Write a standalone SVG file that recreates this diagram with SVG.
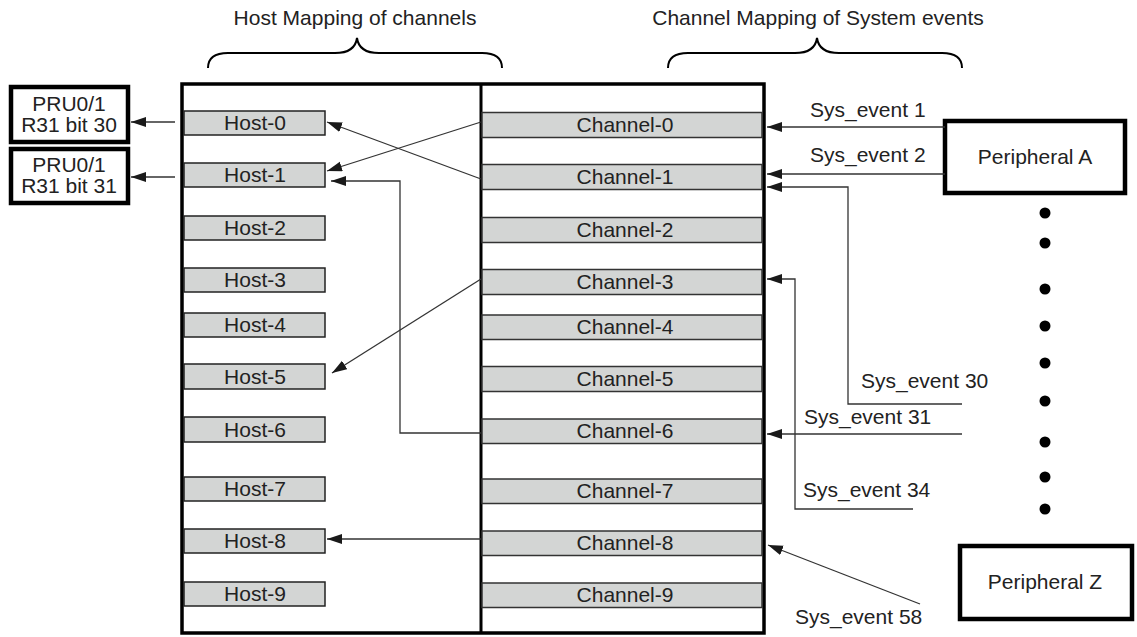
<svg xmlns="http://www.w3.org/2000/svg" width="1137" height="637" viewBox="0 0 1137 637">
<defs>
<marker id="ah" markerUnits="userSpaceOnUse" markerWidth="16" markerHeight="12" refX="15" refY="5" orient="auto"><path d="M0,0 L15,5 L0,10 z" fill="#1a1a1a"/></marker>
<style>
text{font-family:"Liberation Sans",Arial,sans-serif;font-size:21px;fill:#222;}
.t{text-anchor:middle;}
.hb{fill:#d3d5d4;stroke:#222;stroke-width:1.5;}
.cb{fill:#d3d5d4;stroke:#333;stroke-width:1.5;}
.thick{fill:#fff;stroke:#000;stroke-width:4.5;}
.frame{fill:none;stroke:#000;stroke-width:3.5;}
.c{fill:none;stroke:#333;stroke-width:1.3;marker-end:url(#ah);}
.brace{fill:none;stroke:#000;stroke-width:2;}
.dot{fill:#000;}
</style>
</defs>
<rect width="1137" height="637" fill="#fff"/>
<g id="titles">
<text class="t" x="355" y="25">Host Mapping of channels</text>
<path class="brace" d="M208,68 Q208,53 228,53 L335,53 Q355,53 357,38 Q359,53 379,53 L482,53 Q502,53 502,68"/>
<text class="t" x="818" y="25">Channel Mapping of System events</text>
<path class="brace" d="M668,68 Q668,53 688,53 L795,53 Q815,53 817,38 Q819,53 839,53 L942,53 Q962,53 962,68"/>
</g>
<g id="frame">
<rect class="frame" x="182" y="84" width="582" height="549"/>
<line x1="481" y1="84" x2="481" y2="633" stroke="#000" stroke-width="3"/>
</g>
<g id="hosts">
<g id="host-0"><rect class="hb" x="184" y="111" width="141" height="24"/><text class="t" x="255" y="130">Host-0</text></g>
<g id="host-1"><rect class="hb" x="184" y="163" width="141" height="24"/><text class="t" x="255" y="182">Host-1</text></g>
<g id="host-2"><rect class="hb" x="184" y="216" width="141" height="24"/><text class="t" x="255" y="235">Host-2</text></g>
<g id="host-3"><rect class="hb" x="184" y="268" width="141" height="24"/><text class="t" x="255" y="287">Host-3</text></g>
<g id="host-4"><rect class="hb" x="184" y="313" width="141" height="24"/><text class="t" x="255" y="332">Host-4</text></g>
<g id="host-5"><rect class="hb" x="184" y="364" width="141" height="25"/><text class="t" x="255" y="384">Host-5</text></g>
<g id="host-6"><rect class="hb" x="184" y="417" width="141" height="25"/><text class="t" x="255" y="437">Host-6</text></g>
<g id="host-7"><rect class="hb" x="184" y="477" width="141" height="24"/><text class="t" x="255" y="496">Host-7</text></g>
<g id="host-8"><rect class="hb" x="184" y="529" width="141" height="24"/><text class="t" x="255" y="548">Host-8</text></g>
<g id="host-9"><rect class="hb" x="184" y="582" width="141" height="24"/><text class="t" x="255" y="601">Host-9</text></g>
</g>
<g id="channels">
<g id="channel-0"><rect class="cb" x="482" y="112.5" width="280" height="25"/><text class="t" x="625" y="132">Channel-0</text></g>
<g id="channel-1"><rect class="cb" x="482" y="164.5" width="280" height="25"/><text class="t" x="625" y="184">Channel-1</text></g>
<g id="channel-2"><rect class="cb" x="482" y="217.5" width="280" height="25"/><text class="t" x="625" y="237">Channel-2</text></g>
<g id="channel-3"><rect class="cb" x="482" y="269.5" width="280" height="25"/><text class="t" x="625" y="289">Channel-3</text></g>
<g id="channel-4"><rect class="cb" x="482" y="315" width="280" height="24.5"/><text class="t" x="625" y="334">Channel-4</text></g>
<g id="channel-5"><rect class="cb" x="482" y="366.5" width="280" height="25"/><text class="t" x="625" y="386">Channel-5</text></g>
<g id="channel-6"><rect class="cb" x="482" y="419" width="280" height="24.5"/><text class="t" x="625" y="438">Channel-6</text></g>
<g id="channel-7"><rect class="cb" x="482" y="479" width="280" height="24.5"/><text class="t" x="625" y="498">Channel-7</text></g>
<g id="channel-8"><rect class="cb" x="482" y="531" width="280" height="24.5"/><text class="t" x="625" y="550">Channel-8</text></g>
<g id="channel-9"><rect class="cb" x="482" y="583" width="280" height="24.5"/><text class="t" x="625" y="602">Channel-9</text></g>
</g>
<g id="pru-30"><rect class="thick" x="11" y="87" width="117" height="55"/><text class="t" x="69" y="111">PRU0/1</text><text class="t" x="69" y="132">R31 bit 30</text></g>
<g id="pru-31"><rect class="thick" x="11" y="149" width="117" height="54"/><text class="t" x="69" y="172">PRU0/1</text><text class="t" x="69" y="193">R31 bit 31</text></g>
<g id="peripheral-a"><rect class="thick" x="945" y="121" width="180" height="72"/><text class="t" x="1035" y="164">Peripheral A</text></g>
<g id="peripheral-z"><rect class="thick" x="960" y="546" width="172" height="73"/><text class="t" x="1045" y="589">Peripheral Z</text></g>
<g id="dots">
<circle class="dot" cx="1045" cy="213" r="5.5"/>
<circle class="dot" cx="1045" cy="243" r="5.5"/>
<circle class="dot" cx="1045" cy="289" r="5.5"/>
<circle class="dot" cx="1045" cy="326" r="5.5"/>
<circle class="dot" cx="1045" cy="363" r="5.5"/>
<circle class="dot" cx="1045" cy="401" r="5.5"/>
<circle class="dot" cx="1045" cy="442" r="5.5"/>
<circle class="dot" cx="1045" cy="477" r="5.5"/>
<circle class="dot" cx="1045" cy="509" r="5.5"/>
</g>
<g id="connectors">
<line class="c" x1="175" y1="122" x2="131" y2="122"/>
<line class="c" x1="175" y1="177" x2="131" y2="177"/>
<line class="c" x1="481" y1="122" x2="327" y2="171"/>
<line class="c" x1="481" y1="179" x2="327" y2="122"/>
<polyline class="c" points="481,433 400,433 400,181 331,181"/>
<line class="c" x1="481" y1="279" x2="332" y2="373"/>
<line class="c" x1="481" y1="539" x2="327" y2="539"/>
<line class="c" x1="945" y1="127" x2="767" y2="127"/>
<line class="c" x1="945" y1="174" x2="767" y2="174"/>
<polyline class="c" points="962,404 848,404 848,187 767,187"/>
<line class="c" x1="962" y1="434" x2="767" y2="434"/>
<polyline class="c" points="913,509 795,509 795,279 767,279"/>
<line class="c" x1="920" y1="604" x2="768" y2="545"/>
</g>
<g id="labels">
<text x="810" y="117">Sys_event 1</text>
<text x="810" y="162">Sys_event 2</text>
<text x="861" y="388">Sys_event 30</text>
<text x="804" y="424">Sys_event 31</text>
<text x="803" y="497">Sys_event 34</text>
<text x="795" y="624">Sys_event 58</text>
</g>
</svg>
